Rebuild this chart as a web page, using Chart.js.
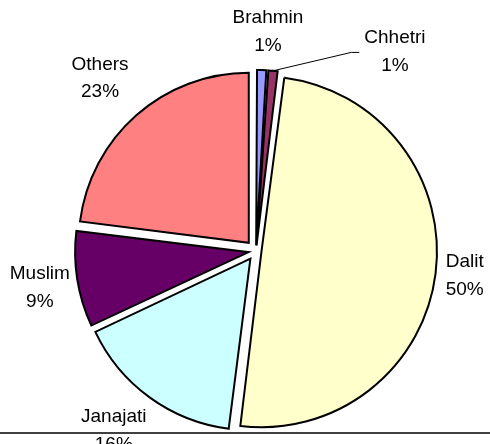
<!DOCTYPE html>
<html>
<head>
<meta charset="utf-8">
<script src="https://cdn.jsdelivr.net/npm/chart.js@4.4.0/dist/chart.umd.min.js"></script>
<style>
  html, body { margin: 0; padding: 0; background: #fff; overflow: hidden; }
  #wrap { width: 490px; height: 444px; }
</style>
</head>
<body>
<div id="wrap"><canvas id="myChart" width="490" height="444"></canvas></div>
<script>
// data
var groups = ['Brahmin', 'Chhetri', 'Dalit', 'Janajati', 'Muslim', 'Others'];
var shares = [1, 1, 50, 16, 9, 23];
var colours = ['#9999FF', '#993366', '#FFFFCC', '#CCFFFF', '#660066', '#FF8080'];

// where each label sits: extra distance past the rim and angle nudge (deg)
var labelPad = [51, 74, 40, 58, 49, 64];
var labelNudge = [1.3, 29.3, -0.8, 2.6, -0.2, -0.4];

var EXPLODE = 11; // px every slice is pulled out
var FONT = '19px "Liberation Sans", Arial, sans-serif';

var total = shares.reduce(function(a, b) { return a + b; }, 0);

// chart.js moves a slice by offset/4 * (1 + fix), fix depending on slice size,
// so work back the offset that gives the same pull for every slice
function sliceOffset(c) {
  var circ = shares[c.dataIndex] / total * Math.PI * 2;
  var fix = 1 - Math.sin(Math.min(Math.PI, circ));
  return EXPLODE * 4 / (1 + fix);
}

var pieLabels = {
  id: 'pieLabels',
  afterDatasetsDraw: function(chart) {
    var ctx = chart.ctx;
    var meta = chart.getDatasetMeta(0);
    ctx.save();
    ctx.font = FONT;
    ctx.fillStyle = '#000';
    ctx.textAlign = 'center';
    ctx.textBaseline = 'alphabetic';
    meta.data.forEach(function(arc, i) {
      var p = arc.getProps(['x', 'y', 'startAngle', 'endAngle', 'outerRadius'], true);
      var mid = (p.startAngle + p.endAngle) / 2;
      var a = mid + labelNudge[i] * Math.PI / 180;
      var d = p.outerRadius + labelPad[i];
      var cx = p.x + d * Math.cos(a);
      var cy = p.y + d * Math.sin(a);
      var pct = Math.round(shares[i] / total * 100) + '%';
      ctx.fillText(groups[i], cx, cy - 7);
      ctx.fillText(pct, cx, cy + 20.5);

      // leader line for the label that was moved away from its slice
      if (Math.abs(labelNudge[i]) > 10) {
        var sx = p.x + (EXPLODE + p.outerRadius) * Math.cos(mid);
        var sy = p.y + (EXPLODE + p.outerRadius) * Math.sin(mid);
        var w = ctx.measureText(groups[i]).width;
        var ex = cx - w / 2 - 5;
        var ey = cy + 2;
        ctx.beginPath();
        ctx.strokeStyle = '#000';
        ctx.lineWidth = 1;
        ctx.moveTo(sx, sy);
        ctx.lineTo(ex - 8, ey);
        ctx.lineTo(ex, ey);
        ctx.stroke();
      }
    });
    // frame line at the bottom of the plot box
    ctx.fillStyle = '#404040';
    ctx.fillRect(0, 432, chart.width, 2);
    ctx.restore();
  }
};

var ctx = document.getElementById('myChart').getContext('2d');
var myChart = new Chart(ctx, {
  type: 'pie',
  data: {
    labels: groups,
    datasets: [{
      data: shares,
      backgroundColor: colours,
      borderColor: '#000',
      borderWidth: 2,
      borderJoinStyle: 'miter',
      offset: sliceOffset
    }]
  },
  options: {
    responsive: false,
    animation: false,
    radius: 170,
    layout: { padding: { left: 22, right: 0, top: 58, bottom: 0 } },
    plugins: {
      legend: { display: false },
      tooltip: { enabled: false },
      title: { display: false }
    }
  },
  plugins: [pieLabels]
});
</script>
</body>
</html>
